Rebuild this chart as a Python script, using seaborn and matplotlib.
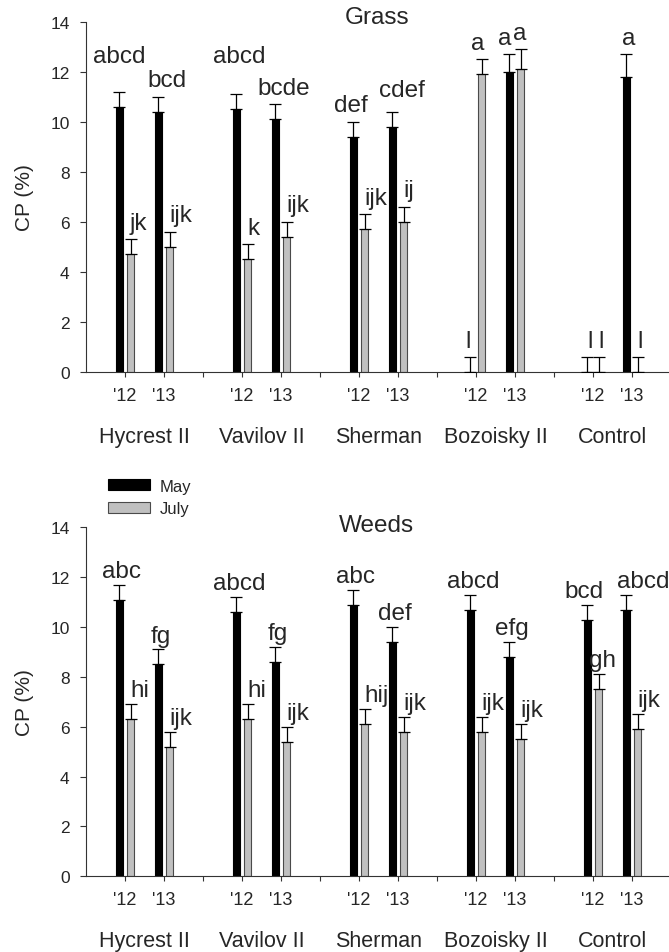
import numpy as np
import pandas as pd
import matplotlib
matplotlib.use('Agg')
import matplotlib.pyplot as plt
import seaborn as sns

# data (CP % by cultivar, year and month)
cultivars = ['Hycrest II', 'Vavilov II', 'Sherman', 'Bozoisky II', 'Control']
years = ["'12", "'13"]
months = ['May', 'July']

# order: Hycrest '12, Hycrest '13, Vavilov '12, ... Control '13
grass_may = [10.6, 10.4, 10.5, 10.1, 9.4, 9.8, 0.0, 12.0, 0.0, 11.8]
grass_may_se = [0.6, 0.6, 0.6, 0.6, 0.6, 0.6, 0.6, 0.7, 0.6, 0.9]
grass_july = [4.7, 5.0, 4.5, 5.4, 5.7, 6.0, 11.9, 12.1, 0.0, 0.0]
grass_july_se = [0.6, 0.6, 0.6, 0.6, 0.6, 0.6, 0.6, 0.8, 0.6, 0.6]
grass_may_letters = ['abcd', 'bcd', 'abcd', 'bcde', 'def', 'cdef', 'l', 'a', 'l', 'a']
grass_july_letters = ['jk', 'ijk', 'k', 'ijk', 'ijk', 'ij', 'a', 'a', 'l', 'l']

weeds_may = [11.1, 8.5, 10.6, 8.6, 10.9, 9.4, 10.7, 8.8, 10.3, 10.7]
weeds_may_se = [0.6, 0.6, 0.6, 0.6, 0.6, 0.6, 0.6, 0.6, 0.6, 0.6]
weeds_july = [6.3, 5.2, 6.3, 5.4, 6.1, 5.8, 5.8, 5.5, 7.5, 5.9]
weeds_july_se = [0.6, 0.6, 0.6, 0.6, 0.6, 0.6, 0.6, 0.6, 0.6, 0.6]
weeds_may_letters = ['abc', 'fg', 'abcd', 'fg', 'abc', 'def', 'abcd', 'efg', 'bcd', 'abcd']
weeds_july_letters = ['hi', 'ijk', 'hi', 'ijk', 'hij', 'ijk', 'ijk', 'ijk', 'gh', 'ijk']

# hand placement of some letters (baseline y in data units / x nudge)
letter_y_fix = {('Grass', 'May', 0): 12.4, ('Grass', 'May', 2): 12.4,
                ('Grass', 'May', 5): 11.05}
letter_dx_fix = {('Grass', 'May', 0): -0.07, ('Grass', 'May', 1): 0.15,
                 ('Grass', 'May', 3): 0.15, ('Grass', 'May', 4): -0.13,
                 ('Grass', 'May', 5): 0.17, ('Grass', 'May', 6): -0.13,
                 ('Grass', 'May', 7): -0.19, ('Grass', 'July', 6): -0.19,
                 ('Grass', 'July', 7): -0.12,
                 ('Weeds', 'May', 8): -0.16, ('Weeds', 'May', 9): 0.36,
                 ('Weeds', 'July', 8): -0.15}


def make_frame(may, july, may_se, july_se, may_let, july_let):
    rows = []
    for i, c in enumerate(cultivars):
        for j, yr in enumerate(years):
            k = 2 * i + j
            pos = 3 * i + 1 + j
            rows.append(dict(k=k, pos=pos, month='May', cp=may[k], se=may_se[k], letter=may_let[k]))
            rows.append(dict(k=k, pos=pos, month='July', cp=july[k], se=july_se[k], letter=july_let[k]))
    return pd.DataFrame(rows)


grass = make_frame(grass_may, grass_july, grass_may_se, grass_july_se,
                   grass_may_letters, grass_july_letters)
weeds = make_frame(weeds_may, weeds_july, weeds_may_se, weeds_july_se,
                   weeds_may_letters, weeds_july_letters)

sns.set_style('ticks')
plt.rcParams['font.family'] = ['Liberation Sans', 'DejaVu Sans']

fig = plt.figure(figsize=(6.69, 9.53), dpi=100)
ax_top = fig.add_axes([0.1285, 0.6086, 0.8744, 0.3673])
ax_bot = fig.add_axes([0.1285, 0.0794, 0.8744, 0.3662])

colors = {'May': 'black', 'July': '#c0c0c0'}
edges = {'May': 'black', 'July': '#4a4a4a'}


def draw_panel(ax, df, name, title_y, letter_pad):
    sns.barplot(data=df, x='pos', y='cp', hue='month', hue_order=months,
                palette=colors, native_scale=True, width=0.6, gap=0.4,
                errorbar=None, legend=False, linewidth=0.8, ax=ax)
    lookup = {(r.month, r.pos): r for r in df.itertuples()}
    for month, cont in zip(months, ax.containers):
        for bar in cont:
            bar.set_edgecolor(edges[month])
            xc = bar.get_x() + bar.get_width() / 2
            row = lookup[(month, int(round(xc)))]
            top = row.cp + row.se
            ax.errorbar([xc], [row.cp], yerr=[[0], [row.se]], fmt='none',
                        ecolor='black', elinewidth=0.9, capsize=4, capthick=0.9,
                        zorder=3)
            key = (name, month, row.k)
            y = letter_y_fix.get(key, top + letter_pad)
            if month == 'May' or row.cp == 0:
                x = xc + 0.07 + letter_dx_fix.get(key, 0.0)
                ax.text(x, y, row.letter, ha='center', va='baseline',
                        fontsize=17.5, clip_on=False)
            else:
                x = bar.get_x() + letter_dx_fix.get(key, 0.07)
                ax.text(x, y, row.letter, ha='left', va='baseline',
                        fontsize=17.5, clip_on=False)

    ax.set_xlim(0, 15)
    ax.set_ylim(0, 14)
    ax.set_yticks(np.arange(0, 15, 2))
    major = [3 * i + 1 + j for i in range(len(cultivars)) for j in range(2)]
    ax.set_xticks(major, years * len(cultivars))
    ax.set_xticks([3, 6, 9, 12], minor=True)
    ax.tick_params(axis='x', which='both', length=3.6, width=0.8, pad=7,
                   labelsize=13, color='#333333')
    ax.tick_params(axis='y', length=4.3, width=0.8, pad=7.5, labelsize=12.5,
                   color='#333333')
    ax.set_xlabel('')
    ax.set_ylabel('CP (%)', fontsize=15)
    ax.yaxis.set_label_coords(-0.088, 0.5)
    for i, c in enumerate(cultivars):
        ax.text(3 * i + 1.5, -0.184, c, transform=ax.get_xaxis_transform(),
                ha='center', va='center', fontsize=15.5)
    ax.text(0.497, title_y, name, transform=ax.transAxes, ha='center',
            va='center', fontsize=17.5)
    sns.despine(ax=ax)
    for s in ['left', 'bottom']:
        ax.spines[s].set_linewidth(0.8)
        ax.spines[s].set_color('#333333')


draw_panel(ax_top, grass, 'Grass', 1.0143, 0.42)
draw_panel(ax_bot, weeds, 'Weeds', 1.0066, 0.32)

ax_bot.legend(ax_bot.containers[:2], months, loc='upper left',
              bbox_to_anchor=(0.1614, 0.4968), bbox_transform=fig.transFigure,
              frameon=False, fontsize=12, handlelength=2.5, handleheight=0.66,
              handletextpad=0.6, labelspacing=0.45, borderpad=0, borderaxespad=0)

fig.savefig('out.png', dpi=100)
